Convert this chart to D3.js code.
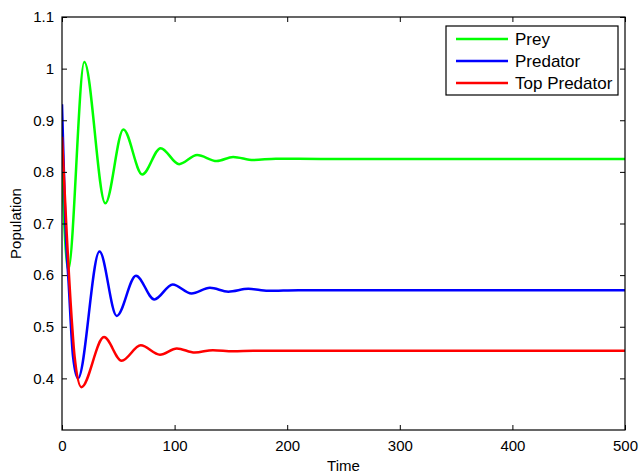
<!DOCTYPE html>
<html>
<head>
<meta charset="utf-8">
<script src="https://cdn.jsdelivr.net/npm/d3@7"></script>
<style>
  body { margin: 0; background: #fff; }
  svg text { font-family: "Liberation Sans", Arial, sans-serif; fill: #000; }
</style>
</head>
<body>
<div class="chart"></div>
<script>
// data (time, population)
let preyT = [0, 5.5, 19.8, 38.5, 54.5, 71.3, 87.6, 104, 120, 137.4, 152, 170, 190, 230, 500];
let preyV = [0.80, 0.61, 1.013, 0.739, 0.882, 0.795, 0.846, 0.815, 0.8326, 0.821, 0.829, 0.823, 0.8255, 0.825, 0.825];

let predT = [0, 3, 6, 9.8, 14.2, 33.3, 48.6, 65.7, 82, 98.3, 115, 131.4, 147.7, 165.5, 183, 210, 500];
let predV = [0.931, 0.70, 0.58, 0.442, 0.400, 0.646, 0.521, 0.599, 0.553, 0.582, 0.5645, 0.5755, 0.568, 0.5735, 0.5695, 0.5708, 0.5705];

let topT = [0, 4.2, 8.9, 11.2, 17.2, 37.3, 53, 69.9, 87, 102, 118, 134, 152, 170, 500];
let topV = [0.868, 0.68, 0.506, 0.442, 0.383, 0.480, 0.434, 0.464, 0.446, 0.458, 0.450, 0.4547, 0.4525, 0.4535, 0.4533];

let seriesNames = ["Prey", "Predator", "Top Predator"];
let seriesColors = ["#00ff00", "#0000ff", "#ff0000"];

let xTicks = [0, 100, 200, 300, 400, 500];
let yTicks = [0.4, 0.5, 0.6, 0.7, 0.8, 0.9, 1, 1.1];

let width = 639, height = 476;
let margin = { left: 62, right: 14, top: 17, bottom: 46 };

let x = d3.scaleLinear().domain([0, 500]).range([margin.left, width - margin.right]);
let y = d3.scaleLinear().domain([0.3, 1.1]).range([height - margin.bottom, margin.top]);

let svg = d3.select(".chart").append("svg").attr("width", width).attr("height", height);

let series = [
	{ name: seriesNames[0], color: seriesColors[0], pts: preyT.map((t, i) => [t, preyV[i]]) },
	{ name: seriesNames[1], color: seriesColors[1], pts: predT.map((t, i) => [t, predV[i]]) },
	{ name: seriesNames[2], color: seriesColors[2], pts: topT.map((t, i) => [t, topV[i]]) }
];

let line = d3.line()
	.x(d => x(d[0]))
	.y(d => y(d[1]))
	.curve(d3.curveMonotoneX);

svg.append("defs").append("clipPath").attr("id", "clip")
	.append("rect")
	.attr("x", margin.left).attr("y", margin.top)
	.attr("width", width - margin.left - margin.right)
	.attr("height", height - margin.top - margin.bottom);

let lines = svg.append("g").attr("clip-path", "url(#clip)");
series.forEach(s => {
	lines.append("path")
		.attr("fill", "none")
		.attr("stroke", s.color)
		.attr("stroke-width", 2.5)
		.attr("stroke-linejoin", "round")
		.attr("d", line(s.pts));
});

// axes, MATLAB style: ticks pointing in, on all four sides
let fmt = d3.format("~g");
let axisStyle = g => {
	g.select(".domain").remove();
	g.selectAll("line").attr("stroke", "#000");
	g.selectAll("text").attr("font-size", 15);
};

svg.append("g")
	.attr("transform", `translate(0,${y.range()[0]})`)
	.call(d3.axisBottom(x).tickValues(xTicks).tickFormat(fmt).tickSizeInner(-5).tickSizeOuter(0).tickPadding(10))
	.call(axisStyle);
svg.append("g")
	.attr("transform", `translate(0,${y.range()[1]})`)
	.call(d3.axisTop(x).tickValues(xTicks).tickFormat("").tickSizeInner(-5).tickSizeOuter(0))
	.call(axisStyle);
svg.append("g")
	.attr("transform", `translate(${x.range()[0]},0)`)
	.call(d3.axisLeft(y).tickValues(yTicks).tickFormat(fmt).tickSizeInner(-5).tickSizeOuter(0).tickPadding(8))
	.call(axisStyle);
svg.append("g")
	.attr("transform", `translate(${x.range()[1]},0)`)
	.call(d3.axisRight(y).tickValues(yTicks).tickFormat("").tickSizeInner(-5).tickSizeOuter(0))
	.call(axisStyle);

svg.append("rect")
	.attr("x", x.range()[0]).attr("y", y.range()[1])
	.attr("width", x.range()[1] - x.range()[0])
	.attr("height", y.range()[0] - y.range()[1])
	.attr("fill", "none").attr("stroke", "#000").attr("stroke-width", 1.2);

svg.append("text")
	.attr("x", (x.range()[0] + x.range()[1]) / 2)
	.attr("y", 471)
	.attr("text-anchor", "middle")
	.attr("font-size", 15)
	.text("Time");

svg.append("text")
	.attr("transform", `translate(21,${(y.range()[0] + y.range()[1]) / 2}) rotate(-90)`)
	.attr("text-anchor", "middle")
	.attr("font-size", 15)
	.text("Population");

// legend
let legend = svg.append("g").attr("transform", "translate(446,26)");
legend.append("rect")
	.attr("width", 172).attr("height", 69)
	.attr("fill", "#fff").attr("stroke", "#000").attr("stroke-width", 1.2);
series.forEach((s, i) => {
	let row = legend.append("g").attr("transform", `translate(0,${13 + i * 22})`);
	row.append("line")
		.attr("x1", 10).attr("x2", 62)
		.attr("stroke", s.color).attr("stroke-width", 2.5);
	row.append("text")
		.attr("x", 69).attr("dy", "0.36em")
		.attr("font-size", 17)
		.text(s.name);
});
</script>
</body>
</html>
